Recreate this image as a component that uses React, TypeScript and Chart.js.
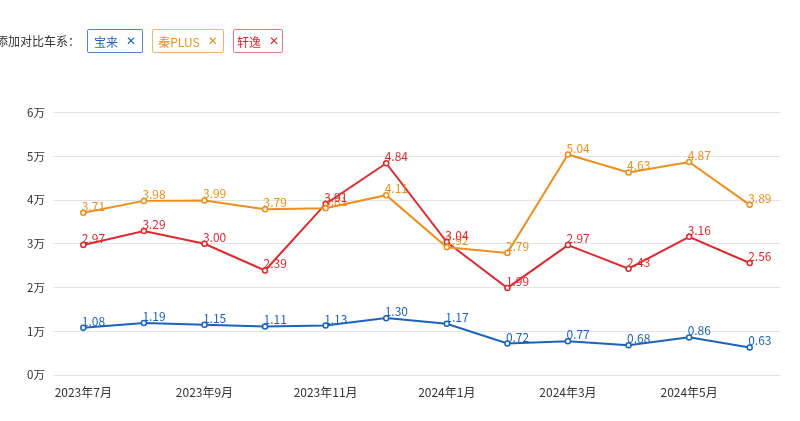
import React, { useEffect, useRef } from "react";
import { Chart, registerables } from "chart.js";

Chart.register(...registerables);

const months = [
  "2023年7月", "2023年8月", "2023年9月", "2023年10月", "2023年11月", "2023年12月",
  "2024年1月", "2024年2月", "2024年3月", "2024年4月", "2024年5月", "2024年6月",
];
const baolai = [1.08, 1.19, 1.15, 1.11, 1.13, 1.3, 1.17, 0.72, 0.77, 0.68, 0.86, 0.63];
const qinPlus = [3.71, 3.98, 3.99, 3.79, 3.81, 4.11, 2.92, 2.79, 5.04, 4.63, 4.87, 3.89];
const xuanyi = [2.97, 3.29, 3.0, 2.39, 3.91, 4.84, 3.04, 1.99, 2.97, 2.43, 3.16, 2.56];
const seriesNames = ["宝来", "秦PLUS", "轩逸"];
const yTicks = [0, 1, 2, 3, 4, 5, 6];

const BLUE = "#1a63bf";
const ORANGE = "#ee8e1c";
const RED = "#dd2a2f";
const FONT = "'Noto Sans CJK SC', 'Noto Sans', sans-serif";

const labelPlugin = {
  id: "pointLabels",
  afterDatasetsDraw(chart: any) {
    const ctx = chart.ctx;
    ctx.save();
    ctx.font = `12px ${FONT}`;
    ctx.textAlign = "left";
    ctx.textBaseline = "alphabetic";
    chart.data.datasets.forEach((ds: any, i: number) => {
      const meta = chart.getDatasetMeta(i);
      ctx.fillStyle = ds.borderColor;
      meta.data.forEach((pt: any, j: number) => {
        const v = ds.data[j] as number;
        ctx.fillText(v.toFixed(2), pt.x - 1.5, pt.y - 2);
      });
    });
    ctx.restore();
  },
};

export default function App() {
  const ref = useRef<HTMLCanvasElement | null>(null);

  useEffect(() => {
    if (!ref.current) return;
    const mk = (label: string, data: number[], color: string) => ({
      label,
      data,
      borderColor: color,
      backgroundColor: "#ffffff",
      borderWidth: 2,
      pointRadius: 2.5,
      pointBorderWidth: 1.5,
      pointBackgroundColor: "#ffffff",
      pointBorderColor: color,
      tension: 0,
    });
    const chart = new Chart(ref.current, {
      type: "line",
      data: {
        labels: months,
        datasets: [
          mk(seriesNames[0], baolai, BLUE),
          mk(seriesNames[1], qinPlus, ORANGE),
          mk(seriesNames[2], xuanyi, RED),
        ],
      },
      options: {
        responsive: false,
        animation: false,
        layout: { padding: { top: 112.5, right: 20, left: 0, bottom: 0 } },
        plugins: { legend: { display: false }, tooltip: { enabled: false } },
        scales: {
          x: {
            offset: true,
            grid: { display: false, drawTicks: false },
            border: { display: false },
            ticks: {
              autoSkip: false,
              maxRotation: 0,
              padding: 10,
              color: "#333333",
              font: { size: 12, family: FONT },
              callback: (_v: any, i: number) => (i % 2 === 0 ? months[i] : ""),
            },
            afterFit: (s: any) => {
              s.height = 46;
            },
          },
          y: {
            min: yTicks[0],
            max: yTicks[yTicks.length - 1],
            grid: { color: "#e3e3e3", drawTicks: false, lineWidth: 1 },
            border: { display: false },
            ticks: {
              stepSize: 1,
              padding: 8,
              color: "#333333",
              font: { size: 11.5, family: FONT },
              callback: (v: any) => `${v}万`,
            },
            afterFit: (s: any) => {
              s.width = 53;
            },
          },
        },
      },
      plugins: [labelPlugin],
    });
    return () => chart.destroy();
  }, []);

  const box = (name: string, color: string, border: string, left: number, width: number) => (
    <div
      key={name}
      style={{
        position: "absolute",
        left,
        top: 29,
        width,
        height: 24,
        boxSizing: "border-box",
        border: `1px solid ${border}`,
        borderRadius: 2,
        display: "flex",
        alignItems: "center",
        justifyContent: "center",
        color,
        fontSize: 12,
        fontFamily: FONT,
        background: "#fff",
      }}
    >
      <span>{name}</span>
      <span style={{ marginLeft: 8, fontWeight: 700, fontSize: 12, fontFamily: "'DejaVu Sans', sans-serif" }}>✕</span>
    </div>
  );

  return (
    <div
      style={{
        position: "absolute",
        left: 0,
        top: 0,
        width: 800,
        height: 421,
        background: "#ffffff",
        overflow: "hidden",
      }}
    >
      <canvas ref={ref} width={800} height={421} style={{ position: "absolute", left: 0, top: 0 }} />
      <div
        style={{
          position: "absolute",
          left: -4,
          top: 29,
          height: 24,
          lineHeight: "24px",
          fontSize: 12,
          fontFamily: FONT,
          color: "#333333",
          whiteSpace: "nowrap",
        }}
      >
        添加对比车系：
      </div>
      {box(seriesNames[0], BLUE, "#4f86cf", 87, 56)}
      {box(seriesNames[1], ORANGE, "#f2b46a", 152, 72)}
      {box(seriesNames[2], RED, "#e5767a", 233, 50)}
    </div>
  );
}
